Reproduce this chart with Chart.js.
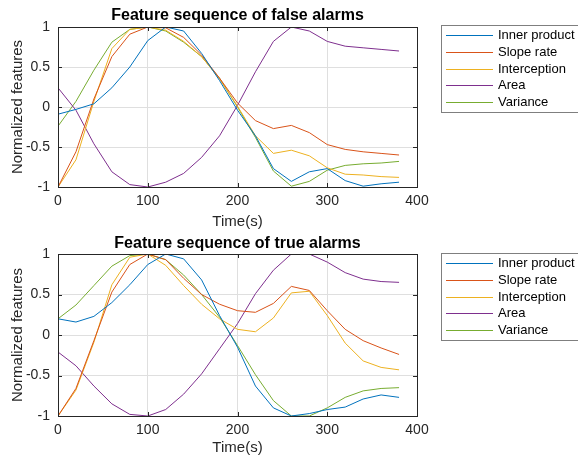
<!DOCTYPE html>
<html>
<head>
<meta charset="utf-8">
<script src="https://cdn.jsdelivr.net/npm/chart.js@4.4.1/dist/chart.umd.min.js"></script>
<style>
  body { margin: 0; background: #fff; }
  canvas { position: absolute; left: 0; }
</style>
</head>
<body>
<canvas id="chart-1" width="578" height="231" style="top:0px"></canvas>
<canvas id="chart-2" width="578" height="229" style="top:228px"></canvas>
<script>
// time axis (s) and feature names
const times = [0, 20, 40, 60, 80, 100, 120, 140, 160, 180, 200, 220, 240, 260, 280, 300, 320, 340, 360, 380];
const featureNames = ['Inner product', 'Slope rate', 'Interception', 'Area', 'Variance'];
const xTicks = [0, 100, 200, 300, 400];
const yTicks = [-1, -0.5, 0, 0.5, 1];

// false alarms
const falseInner = [-0.09, -0.03, 0.04, 0.24, 0.5, 0.83, 1.0, 0.95, 0.67, 0.33, -0.04, -0.36, -0.77, -0.93, -0.81, -0.77, -0.92, -0.99, -0.96, -0.94];
const falseSlope = [-1.0, -0.56, 0.1, 0.63, 0.91, 1.0, 0.99, 0.87, 0.65, 0.36, 0.05, -0.17, -0.27, -0.23, -0.32, -0.47, -0.53, -0.56, -0.58, -0.6];
const falseIntercept = [-1.0, -0.66, 0.07, 0.73, 0.97, 1.0, 0.96, 0.82, 0.63, 0.35, 0.01, -0.36, -0.58, -0.54, -0.61, -0.76, -0.84, -0.85, -0.87, -0.88];
const falseArea = [0.24, -0.04, -0.46, -0.81, -0.97, -1.0, -0.94, -0.83, -0.63, -0.36, 0.02, 0.44, 0.82, 1.0, 0.95, 0.82, 0.76, 0.74, 0.72, 0.7];
const falseVariance = [-0.24, 0.07, 0.46, 0.81, 0.97, 1.0, 0.95, 0.81, 0.63, 0.36, 0.0, -0.38, -0.8, -0.99, -0.93, -0.79, -0.73, -0.71, -0.7, -0.68];

// true alarms
const trueInner = [0.2, 0.16, 0.23, 0.4, 0.62, 0.87, 1.0, 0.94, 0.68, 0.24, -0.15, -0.63, -0.9, -1.0, -0.97, -0.92, -0.89, -0.79, -0.74, -0.77];
const trueSlope = [-1.0, -0.66, -0.07, 0.53, 0.87, 1.0, 0.93, 0.7, 0.5, 0.38, 0.3, 0.28, 0.39, 0.6, 0.55, 0.3, 0.07, -0.07, -0.16, -0.24];
const trueIntercept = [-1.0, -0.68, -0.09, 0.62, 0.96, 1.0, 0.86, 0.61, 0.38, 0.2, 0.07, 0.04, 0.21, 0.52, 0.54, 0.24, -0.1, -0.32, -0.4, -0.43];
const trueArea = [-0.21, -0.38, -0.63, -0.85, -0.98, -1.0, -0.92, -0.73, -0.48, -0.17, 0.14, 0.51, 0.8, 1.0, 1.0, 0.9, 0.77, 0.69, 0.66, 0.65];
const trueVariance = [0.2, 0.37, 0.61, 0.85, 0.98, 1.0, 0.93, 0.74, 0.5, 0.22, -0.13, -0.49, -0.81, -1.0, -1.0, -0.9, -0.77, -0.69, -0.66, -0.65];

const colors = ['#0072BD', '#D95319', '#EDB120', '#7E2F8E', '#77AC30'];
const axisColor = '#262626';
const FONT = 'Liberation Sans, Arial, Helvetica, sans-serif';

// title, box, inward ticks and legend, MATLAB style
const matlabAxes = {
  id: 'matlabAxes',
  afterDatasetsDraw(chart, args, opts) {
    const { ctx, chartArea: a, scales } = chart;
    ctx.save();
    ctx.strokeStyle = axisColor;
    ctx.lineWidth = 1;
    ctx.beginPath();
    const tl = 4;
    xTicks.forEach(v => {
      const x = Math.round(scales.x.getPixelForValue(v)) + 0.5;
      ctx.moveTo(x, a.bottom); ctx.lineTo(x, a.bottom - tl);
      ctx.moveTo(x, a.top); ctx.lineTo(x, a.top + tl);
    });
    yTicks.forEach(v => {
      const y = Math.round(scales.y.getPixelForValue(v)) + 0.5;
      ctx.moveTo(a.left, y); ctx.lineTo(a.left + tl, y);
      ctx.moveTo(a.right, y); ctx.lineTo(a.right - tl, y);
    });
    ctx.stroke();
    ctx.strokeRect(Math.round(a.left) + 0.5, Math.round(a.top) + 0.5,
      Math.round(a.right - a.left), Math.round(a.bottom - a.top));

    // title
    ctx.fillStyle = '#000';
    ctx.font = 'bold 16px ' + FONT;
    ctx.textAlign = 'center';
    ctx.textBaseline = 'alphabetic';
    ctx.fillText(opts.title, (a.left + a.right) / 2, opts.titleY);

    // legend
    const lx = 441, ly = opts.legendTop, lh = 87;
    ctx.fillStyle = '#fff';
    ctx.fillRect(lx, ly, 140, lh);
    ctx.strokeStyle = '#7f7f7f';
    ctx.strokeRect(lx + 0.5, ly + 0.5, 140, lh);
    ctx.font = '13px ' + FONT;
    ctx.textAlign = 'left';
    ctx.textBaseline = 'middle';
    chart.data.datasets.forEach((ds, i) => {
      const y = Math.round(ly + 10 + i * 16.8) + 0.5;
      ctx.strokeStyle = ds.borderColor;
      ctx.beginPath();
      ctx.moveTo(446, y); ctx.lineTo(493, y);
      ctx.stroke();
      ctx.fillStyle = '#000';
      ctx.fillText(ds.label, 498, y);
    });
    ctx.restore();
  }
};

function makeChart(id, series, title, topPad, titleY, legendTop, xHeight, xTitlePad) {
  new Chart(document.getElementById(id), {
    type: 'line',
    data: {
      datasets: series.map((vals, i) => ({
        label: featureNames[i],
        data: times.map((t, j) => ({ x: t, y: vals[j] })),
        borderColor: colors[i],
        backgroundColor: colors[i],
        borderWidth: 1,
        pointRadius: 0,
        tension: 0,
        fill: false
      }))
    },
    options: {
      responsive: false,
      animation: false,
      layout: { padding: { top: topPad, right: 161, left: 0, bottom: 0 } },
      plugins: {
        legend: { display: false },
        tooltip: { enabled: false },
        matlabAxes: { title: title, titleY: titleY, legendTop: legendTop }
      },
      scales: {
        x: {
          type: 'linear',
          min: 0, max: 400,
          afterBuildTicks: s => { s.ticks = xTicks.map(v => ({ value: v })); },
          afterFit: s => { s.height = xHeight; },
          grid: { color: '#dfdfdf', drawTicks: false },
          border: { display: false },
          ticks: { color: axisColor, font: { family: FONT, size: 14 }, padding: 6, maxRotation: 0,
                   callback: v => String(v) },
          title: { display: true, text: 'Time(s)', color: axisColor, font: { family: FONT, size: 15 }, padding: { top: xTitlePad, bottom: 0 } }
        },
        y: {
          min: -1, max: 1,
          afterBuildTicks: s => { s.ticks = yTicks.map(v => ({ value: v })); },
          afterFit: s => { s.width = 58; },
          grid: { color: '#dfdfdf', drawTicks: false },
          border: { display: false },
          ticks: { color: axisColor, font: { family: FONT, size: 14 }, padding: 8,
                   callback: v => String(v) },
          title: { display: true, text: 'Normalized features', color: axisColor, font: { family: FONT, size: 15 }, padding: { top: 9, bottom: 0 } }
        }
      }
    },
    plugins: [matlabAxes]
  });
}

makeChart('chart-1', [falseInner, falseSlope, falseIntercept, falseArea, falseVariance],
  'Feature sequence of false alarms', 27, 20, 25, 44, 0);
makeChart('chart-2', [trueInner, trueSlope, trueIntercept, trueArea, trueVariance],
  'Feature sequence of true alarms', 26, 20, 25, 41, 1);
</script>
</body>
</html>
